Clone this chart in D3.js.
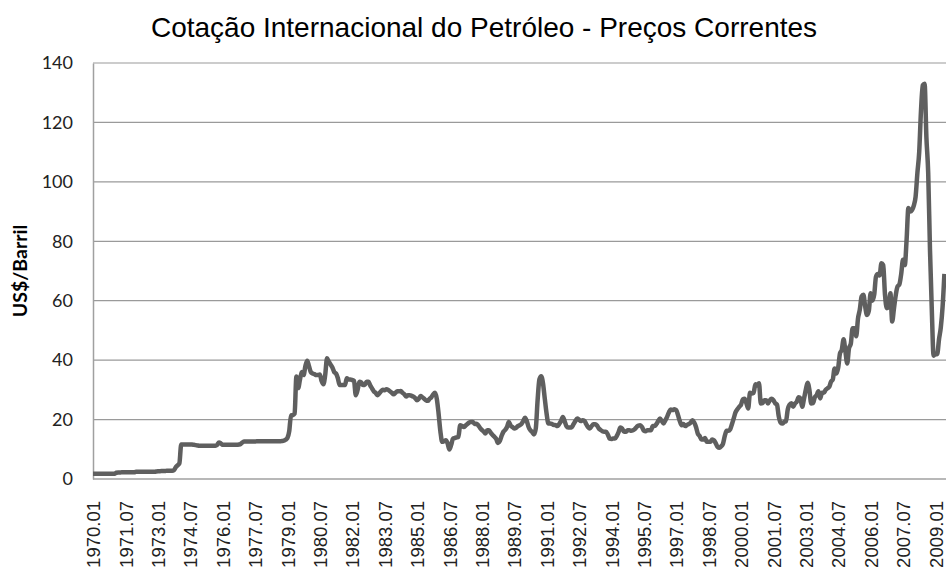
<!DOCTYPE html>
<html>
<head>
<meta charset="utf-8">
<script src="https://cdn.jsdelivr.net/npm/d3@7"></script>
<style>
  body { margin: 0; background: #fff; }
</style>
</head>
<body>
<svg width="946" height="573"></svg>
<script>
let width = 946;
let height = 573;

// monthly prices, US$/barril, 1970.01 .. 2009.06 (one row per year)
let prices1970s = [
  1.8, 1.8, 1.8, 1.8, 1.8, 1.8, 1.8, 1.8, 1.8, 1.8, 1.8, 1.8,
  1.8, 2.1, 2.2, 2.2, 2.3, 2.3, 2.3, 2.3, 2.3, 2.3, 2.3, 2.3,
  2.4, 2.4, 2.4, 2.4, 2.4, 2.4, 2.4, 2.4, 2.4, 2.4, 2.4, 2.5,
  2.6, 2.6, 2.7, 2.7, 2.7, 2.8, 2.8, 2.8, 2.8, 3.0, 4.0, 4.6,
  5.3, 11.6, 11.6, 11.6, 11.6, 11.6, 11.6, 11.6, 11.5, 11.4, 11.3, 11.2,
  11.2, 11.2, 11.2, 11.2, 11.2, 11.2, 11.2, 11.2, 11.2, 11.5, 12.3, 12.0,
  11.5, 11.5, 11.5, 11.5, 11.5, 11.5, 11.5, 11.5, 11.5, 11.6, 11.8, 12.3,
  12.6, 12.6, 12.6, 12.6, 12.6, 12.6, 12.6, 12.7, 12.7, 12.7, 12.7, 12.7,
  12.7, 12.7, 12.7, 12.7, 12.7, 12.7, 12.7, 12.7, 12.7, 12.8, 12.9, 13.2,
  13.8, 16.0, 21.4, 21.5, 22.0, 34.5, 30.6, 33.5, 36.0, 35.0, 38.0, 39.8
];
let prices1980s = [
  38.0, 36.0, 35.5, 35.3, 35.0, 35.0, 35.2, 33.0, 31.9, 35.0, 40.6, 39.5,
  38.5, 37.5, 36.0, 35.5, 34.0, 31.6, 31.6, 31.6, 31.6, 33.9, 33.5, 33.5,
  33.3, 33.0, 28.2, 30.0, 32.7, 32.5, 31.6, 31.8, 32.7, 32.7, 31.5, 30.5,
  29.5, 29.0, 28.2, 28.8, 29.5, 30.0, 29.9, 30.2, 30.0, 29.5, 29.0, 28.5,
  29.0, 29.5, 29.5, 29.6, 29.0, 28.5, 27.8, 28.2, 28.2, 28.0, 27.7, 27.2,
  26.5, 27.0, 27.9, 27.5, 27.0, 26.5, 26.3, 27.0, 27.5, 28.5, 29.0, 27.0,
  22.0, 16.0, 12.5, 12.7, 13.0, 12.0, 9.9, 11.5, 13.6, 13.8, 14.0, 14.2,
  18.1, 17.8, 17.5, 18.0, 18.5, 19.0, 19.2, 19.2, 18.5, 18.6, 18.1, 17.2,
  16.5, 16.0, 15.3, 16.4, 16.4, 15.5, 14.8, 14.2, 13.5, 12.1, 12.8, 14.5,
  15.9, 16.5, 17.5, 19.2, 18.0, 17.5, 17.0, 17.2, 17.8, 18.1, 18.5, 19.5
];
let prices1990s = [
  20.6, 19.5, 17.5, 16.4, 15.8, 15.0, 17.0, 26.5, 33.5, 34.6, 32.2, 27.0,
  22.0, 18.7, 18.7, 18.5, 18.2, 18.1, 17.8, 18.5, 19.5, 20.9, 19.5, 17.8,
  17.3, 17.3, 17.5, 18.5, 19.5, 20.4, 20.0, 19.5, 19.8, 19.6, 18.5, 17.5,
  17.0, 17.8, 18.4, 18.4, 18.0, 17.0, 16.5, 16.1, 15.9, 15.9, 15.0, 13.6,
  13.5, 13.6, 13.6, 14.5, 15.8, 17.3, 17.0, 15.9, 15.9, 16.4, 16.4, 16.2,
  16.4, 16.8, 17.5, 18.0, 18.1, 17.5, 16.3, 16.1, 16.4, 16.4, 16.4, 17.8,
  17.8, 18.5, 19.5, 20.4, 19.5, 18.7, 19.8, 21.0, 22.5, 23.4, 23.2, 23.5,
  23.2, 21.5, 19.5, 18.1, 18.5, 17.8, 18.2, 18.5, 18.9, 19.8, 19.0, 17.5,
  15.3, 14.5, 13.3, 13.3, 13.8, 12.5, 12.5, 12.5, 13.3, 13.0, 12.0, 10.8,
  10.5, 11.0, 11.9, 14.5, 16.2, 16.2, 16.7, 18.5, 20.5, 22.5, 23.5, 24.3
];
let prices2000s = [
  25.0, 26.8, 27.0, 25.5, 23.7, 29.0, 28.8, 29.0, 31.9, 31.5, 32.2, 25.4,
  25.5, 26.5, 26.5, 25.4, 26.5, 27.0, 26.5, 25.5, 25.0, 21.0, 19.0, 18.7,
  19.2, 19.5, 23.5, 25.0, 25.5, 24.3, 25.4, 26.0, 27.5, 27.1, 24.3, 27.0,
  30.0, 32.4, 30.0, 25.4, 25.5, 27.5, 28.2, 29.5, 27.1, 29.0, 29.0, 30.0,
  30.5, 31.0, 32.7, 33.5, 37.2, 35.5, 37.5, 42.3, 43.5, 47.0, 43.0, 38.9,
  44.0, 45.5, 50.7, 50.7, 48.0, 54.0, 57.0, 61.4, 62.0, 58.0, 55.2, 56.5,
  62.5, 60.0, 62.0, 68.1, 69.0, 68.5, 72.6, 72.0, 62.0, 57.5, 58.0, 62.5,
  53.0, 57.5, 62.0, 64.8, 65.5, 69.0, 73.8, 72.0, 80.5, 91.2, 90.0, 90.5,
  92.0, 95.0, 103.0, 110.0, 124.0, 132.5, 133.0, 115.0, 103.0, 77.0, 57.0, 41.5,
  42.0, 42.0, 47.0, 51.0, 58.0, 69.0
];

let prices = prices1970s.concat(prices1980s, prices1990s, prices2000s);
let firstYear = 1970;
let yTicks = [0, 20, 40, 60, 80, 100, 120, 140];
let labelStep = 18; // months between category labels

let months = prices.map((p, i) => ({
  i: i,
  label: (firstYear + Math.floor(i / 12)) + '.' + String(i % 12 + 1).padStart(2, '0'),
  value: p
}));

let margin = { left: 93, top: 63, right: 946, bottom: 479 };

let x = d3.scaleLinear()
  .domain([0, prices.length - 1])
  .range([margin.left, margin.left + (prices.length - 1) * 1.8]);

let y = d3.scaleLinear()
  .domain([0, 140])
  .range([margin.bottom, margin.top]);

let svg = d3.select('svg');

// title
svg.append('text')
  .attr('x', 484)
  .attr('y', 37)
  .attr('text-anchor', 'middle')
  .style('font-family', '"Liberation Sans", Arial, sans-serif')
  .style('font-size', '28px')
  .text('Cotação Internacional do Petróleo - Preços Correntes')
  ;

// grid
svg.append('g')
  .attr('id', 'grid')
  .selectAll('line')
  .data(yTicks.filter(d => d > 0))
  .enter()
    .append('line')
    .attr('x1', margin.left)
    .attr('x2', margin.right)
    .attr('y1', d => y(d))
    .attr('y2', d => y(d))
    .attr('stroke', '#9a9a9a')
    .attr('stroke-width', 1.2)
  ;

// y axis
let yAxis = svg.append('g')
  .attr('transform', `translate(${margin.left},0)`)
  .call(d3.axisLeft(y).tickValues(yTicks).tickSize(0).tickPadding(20))
  ;
yAxis.select('.domain').attr('stroke', '#a0a0a0').attr('stroke-width', 1.5);
yAxis.selectAll('text')
  .style('font-family', 'Lato, "Open Sans", sans-serif')
  .style('font-size', '18px')
  .attr('fill', '#222')
  ;

// x axis
let xAxis = svg.append('g')
  .attr('transform', `translate(0,${margin.bottom})`)
  .call(d3.axisBottom(x)
    .tickValues(d3.range(0, prices.length, labelStep))
    .tickFormat(i => months[i].label)
    .tickSize(0))
  ;
xAxis.select('.domain').attr('d', `M${margin.left},0H${margin.right}`).attr('stroke', '#a0a0a0').attr('stroke-width', 1.5);
xAxis.selectAll('text')
  .attr('transform', 'rotate(-90)')
  .attr('text-anchor', 'end')
  .attr('x', -22)
  .attr('y', 0)
  .attr('dy', '0.36em')
  .attr('fill', '#222')
  .style('font-family', '"Liberation Sans", Arial, sans-serif')
  .style('font-size', '18.5px')
  ;

// y label
svg.append('text')
  .attr('transform', `translate(27,${(margin.top + margin.bottom) / 2}) rotate(-90)`)
  .attr('text-anchor', 'middle')
  .style('font-family', 'Lato, "Open Sans", sans-serif')
  .style('font-weight', 'bold')
  .style('font-size', '19.5px')
  .text('US$/Barril')
  ;

// price line
let line = d3.line()
  .x(d => x(d.i))
  .y(d => y(d.value))
  .curve(d3.curveMonotoneX)
  ;

svg.append('path')
  .datum(months)
  .attr('d', line)
  .attr('fill', 'none')
  .attr('stroke', '#5f5f5f')
  .attr('stroke-width', 4.5)
  .attr('stroke-linejoin', 'round')
  ;
</script>
</body>
</html>
